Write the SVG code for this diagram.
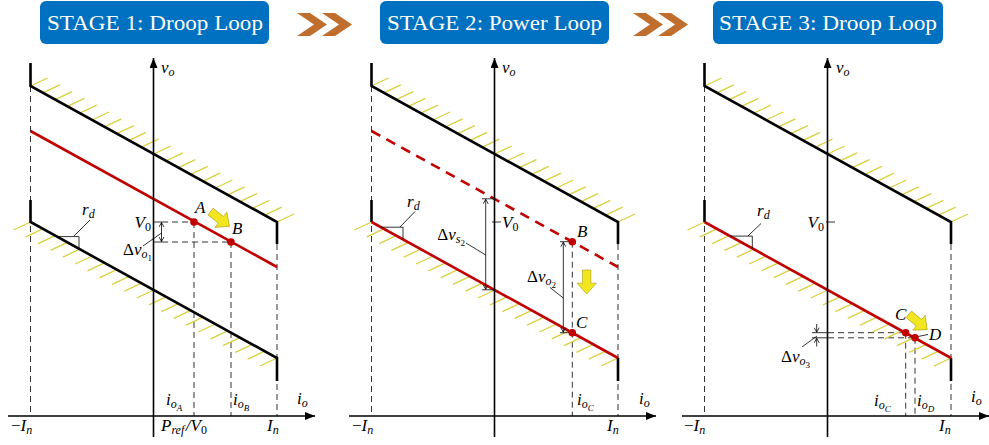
<svg xmlns="http://www.w3.org/2000/svg" xmlns:xlink="http://www.w3.org/1999/xlink" width="989" height="445" viewBox="0 0 989 445">
<style>
.ax{stroke:#000;stroke-width:1.6;fill:none}
.bl{stroke:#000;stroke-width:2.6;fill:none}
.rd{stroke:#c00000;stroke-width:2.6;fill:none}
.rdd{stroke:#c00000;stroke-width:2.6;fill:none;stroke-dasharray:10 7}
.dsh{stroke:#333;stroke-width:1;fill:none;stroke-dasharray:6 4}
.hat{stroke:#d8d040;stroke-width:1.3;fill:none}
.thin{stroke:#000;stroke-width:0.8;fill:none}
.pt{fill:#c00000}
.ya{fill:#f2e620;stroke:#a89a10;stroke-width:0.5}
.m{font-family:"Liberation Serif","DejaVu Serif",serif;font-style:italic;font-size:17px;fill:#000}
.e{text-anchor:end}
.up{font-style:normal}
.hd{font-family:"Liberation Serif","DejaVu Serif",serif;font-size:22px;fill:#fff}
.hb{fill:#0070c0}
.ch{fill:#bf6e2e}
</style>
<defs>
<marker id="ah" markerUnits="userSpaceOnUse" markerWidth="10" markerHeight="8" refX="10" refY="4" orient="auto"><path d="M0 0L10 4L0 8z" fill="#000"/></marker>
<marker id="da" markerUnits="userSpaceOnUse" markerWidth="6" markerHeight="6" refX="5" refY="3" orient="auto-start-reverse"><path d="M0.5 0.5L5 3L0.5 5.5" fill="none" stroke="#000" stroke-width="0.8"/></marker>
<path id="hu" class="hat" d="M30.5 86l17 -8m-4.675 14.8l17 -8m-4.675 14.8l17 -8m-4.675 14.8l17 -8m-4.675 14.8l17 -8m-4.675 14.8l17 -8m-4.675 14.8l17 -8m-4.675 14.8l17 -8m-4.675 14.8l17 -8m-4.675 14.8l17 -8m-4.675 14.8l17 -8m-4.675 14.8l17 -8m-4.675 14.8l17 -8m-4.675 14.8l17 -8m-4.675 14.8l17 -8m-4.675 14.8l17 -8m-4.675 14.8l17 -8m-4.675 14.8l17 -8m-4.675 14.8l17 -8m-4.675 14.8l17 -8m-4.675 14.8l17 -8"/>
<path id="hl" class="hat" d="M30.5 222l-17 8m29.325 -1.2l-17 8m29.325 -1.2l-17 8m29.325 -1.2l-17 8m29.325 -1.2l-17 8m29.325 -1.2l-17 8m29.325 -1.2l-17 8m29.325 -1.2l-17 8m29.325 -1.2l-17 8m29.325 -1.2l-17 8m29.325 -1.2l-17 8m29.325 -1.2l-17 8m29.325 -1.2l-17 8m29.325 -1.2l-17 8m29.325 -1.2l-17 8m29.325 -1.2l-17 8m29.325 -1.2l-17 8m29.325 -1.2l-17 8m29.325 -1.2l-17 8m29.325 -1.2l-17 8m29.325 -1.2l-17 8"/>
<path id="yarr" d="M-10 -3.5H1V-8L10 0L1 8V3.5H-10z"/>
</defs>

<g id="headers">
<g id="stage1"><rect class="hb" x="40" y="1" width="229" height="43" rx="6"/><text class="hd" x="47" y="30" textLength="216" lengthAdjust="spacingAndGlyphs">STAGE 1: Droop Loop</text></g>
<g id="stage2"><rect class="hb" x="380" y="1" width="229" height="43" rx="6"/><text class="hd" x="387" y="30" textLength="215" lengthAdjust="spacingAndGlyphs">STAGE 2: Power Loop</text></g>
<g id="stage3"><rect class="hb" x="713" y="1" width="230" height="43" rx="6"/><text class="hd" x="719" y="30" textLength="218" lengthAdjust="spacingAndGlyphs">STAGE 3: Droop Loop</text></g>
</g>
<g id="connectors">
<polygon class="ch" points="297,13 310,13 327,24.5 310,36 297,36 314,24.5"/>
<polygon class="ch" points="322,13 335,13 352,24.5 335,36 322,36 339,24.5"/>
<polygon class="ch" points="633,13 646,13 663,24.5 646,36 633,36 650,24.5"/>
<polygon class="ch" points="658,13 671,13 688,24.5 671,36 658,36 675,24.5"/>
</g>

<g id="panel1">
<path class="dsh" d="M30.5 86V416M277 244V416M194 222V416M231 242V416M162 222H194M162 242H231"/>
<use xlink:href="#hu"/><use xlink:href="#hl"/>
<path class="bl" d="M30.5 63V86L277 222V244"/>
<path class="bl" d="M30.5 200V222L277 358V381"/>
<path class="rd" d="M30.5 131L277 267"/>
<path class="ax" d="M8 416H315" marker-end="url(#ah)"/>
<path class="ax" d="M153.5 437V58" marker-end="url(#ah)"/>
<path class="thin" d="M57 236.6H79V248.8M74 236L90 220"/>
<path class="thin" d="M153.5 222H162M153.5 242H162M143 246L161.5 233"/>
<path class="thin" d="M161.5 222.5V241.5" marker-start="url(#da)" marker-end="url(#da)"/>
<circle class="pt" cx="194" cy="222" r="3.8"/><circle class="pt" cx="231" cy="242" r="3.8"/>
<use xlink:href="#yarr" class="ya" transform="translate(220,219) rotate(38) scale(1.2)"/>
<text class="m" x="161" y="73">v<tspan font-size="12" dy="3">o</tspan></text>
<text class="m" x="297" y="404">i<tspan font-size="12" dy="3">o</tspan></text>
<text class="m" x="11" y="431"><tspan class="up">−</tspan>I<tspan font-size="12" dy="3">n</tspan></text>
<text class="m" x="161" y="431">P<tspan font-size="12" dy="3">ref</tspan><tspan dx="1.5" dy="-3">/V</tspan><tspan class="up" font-size="12" dy="3">0</tspan></text>
<text class="m" x="267" y="431">I<tspan font-size="12" dy="3">n</tspan></text>
<text class="m" x="166" y="405">i<tspan font-size="12" dy="3">o</tspan><tspan font-size="9" dy="2.5">A</tspan></text>
<text class="m" x="233" y="405">i<tspan font-size="12" dy="3">o</tspan><tspan font-size="9" dy="2.5">B</tspan></text>
<text class="m e" x="151" y="228">V<tspan class="up" font-size="12" dy="3">0</tspan></text>
<text class="m e" x="152" y="255"><tspan class="up">Δ</tspan>v<tspan font-size="12" dy="3">o</tspan><tspan class="up" font-size="9" dy="2.5">1</tspan></text>
<text class="m" x="82" y="215">r<tspan font-size="12" dy="3">d</tspan></text>
<text class="m" x="195" y="213">A</text>
<text class="m" x="232" y="234">B</text>
</g>

<g id="panel2">
<path class="dsh" d="M371.5 86V416M618 244V416M572.3 241.7V416"/>
<use xlink:href="#hu" transform="translate(341,0)"/><use xlink:href="#hl" transform="translate(341,0)"/>
<path class="bl" d="M371.5 63V86L618 222V244"/>
<path class="bl" d="M371.5 200V222M618 358V381"/>
<path class="rdd" d="M371.5 131L618 267"/>
<path class="rd" d="M371.5 222L618 358"/>
<path class="ax" d="M349 416H656" marker-end="url(#ah)"/>
<path class="ax" d="M494.5 437V58" marker-end="url(#ah)"/>
<path class="thin" d="M381 227.2H403V239.3M400 227L415 211.5"/>
<path class="thin" d="M482 198.8H494.5M482 289.8H494.5M466 243L485.7 255M492 222H501"/>
<path class="thin" d="M485.7 199.3V289.3" marker-start="url(#da)" marker-end="url(#da)"/>
<path class="thin" d="M560 241.7H572M560 332.7H572M550 287.5L563.3 298"/>
<path class="thin" d="M563.3 242.2V332.2" marker-start="url(#da)" marker-end="url(#da)"/>
<circle class="pt" cx="572.3" cy="241.7" r="3.8"/><circle class="pt" cx="572.3" cy="332.7" r="3.8"/>
<use xlink:href="#yarr" class="ya" transform="translate(586.7,282) rotate(90) scale(1.2)"/>
<text class="m" x="502" y="73">v<tspan font-size="12" dy="3">o</tspan></text>
<text class="m" x="639" y="404">i<tspan font-size="12" dy="3">o</tspan></text>
<text class="m" x="352" y="431"><tspan class="up">−</tspan>I<tspan font-size="12" dy="3">n</tspan></text>
<text class="m" x="607" y="431">I<tspan font-size="12" dy="3">n</tspan></text>
<text class="m" x="577" y="405">i<tspan font-size="12" dy="3">o</tspan><tspan font-size="9" dy="2.5">C</tspan></text>
<text class="m" x="502" y="228">V<tspan class="up" font-size="12" dy="3">0</tspan></text>
<text class="m e" x="465" y="240"><tspan class="up">Δ</tspan>v<tspan font-size="12" dy="3">s</tspan><tspan class="up" font-size="9" dy="2.5">2</tspan></text>
<text class="m e" x="556" y="282"><tspan class="up">Δ</tspan>v<tspan font-size="12" dy="3">o</tspan><tspan class="up" font-size="9" dy="2.5">2</tspan></text>
<text class="m" x="407" y="207">r<tspan font-size="12" dy="3">d</tspan></text>
<text class="m" x="577" y="237">B</text>
<text class="m" x="576" y="328">C</text>
</g>

<g id="panel3">
<path class="dsh" d="M704.5 86V416M951 244V416M905.7 332.7V416M915 337.8V416M828 332.7H905.7M828 337.8H915"/>
<use xlink:href="#hu" transform="translate(674,0)"/><use xlink:href="#hl" transform="translate(674,0)"/>
<path class="bl" d="M704.5 63V86L951 222V244"/>
<path class="bl" d="M704.5 200V222M951 358V381"/>
<path class="rd" d="M704.5 222L951 358"/>
<path class="ax" d="M682 416H989" marker-end="url(#ah)"/>
<path class="ax" d="M827.5 437V58" marker-end="url(#ah)"/>
<path class="thin" d="M730 236.1H752.3V248.4M748 236L761 223.5"/>
<path class="thin" d="M826 222H835M812 332.7H828M812 337.8H828M802 347L817 336M918 336.5L928 334.5"/>
<path class="thin" d="M816.7 324V332.2" marker-end="url(#da)"/>
<path class="thin" d="M816.7 346.5V338.3" marker-end="url(#da)"/>
<circle class="pt" cx="905.7" cy="332.7" r="3.8"/><circle class="pt" cx="915" cy="337.8" r="3.8"/>
<use xlink:href="#yarr" class="ya" transform="translate(918,322) rotate(40) scale(1.2)"/>
<text class="m" x="836" y="73">v<tspan font-size="12" dy="3">o</tspan></text>
<text class="m" x="971" y="402">i<tspan font-size="12" dy="3">o</tspan></text>
<text class="m" x="684" y="431"><tspan class="up">−</tspan>I<tspan font-size="12" dy="3">n</tspan></text>
<text class="m" x="939" y="431">I<tspan font-size="12" dy="3">n</tspan></text>
<text class="m" x="874" y="406">i<tspan font-size="12" dy="3">o</tspan><tspan font-size="9" dy="2.5">C</tspan></text>
<text class="m" x="917" y="406">i<tspan font-size="12" dy="3">o</tspan><tspan font-size="9" dy="2.5">D</tspan></text>
<text class="m e" x="824" y="228">V<tspan class="up" font-size="12" dy="3">0</tspan></text>
<text class="m e" x="810" y="362"><tspan class="up">Δ</tspan>v<tspan font-size="12" dy="3">o</tspan><tspan class="up" font-size="9" dy="2.5">3</tspan></text>
<text class="m" x="757" y="216">r<tspan font-size="12" dy="3">d</tspan></text>
<text class="m" x="895" y="320">C</text>
<text class="m" x="929" y="340">D</text>
</g>
</svg>
